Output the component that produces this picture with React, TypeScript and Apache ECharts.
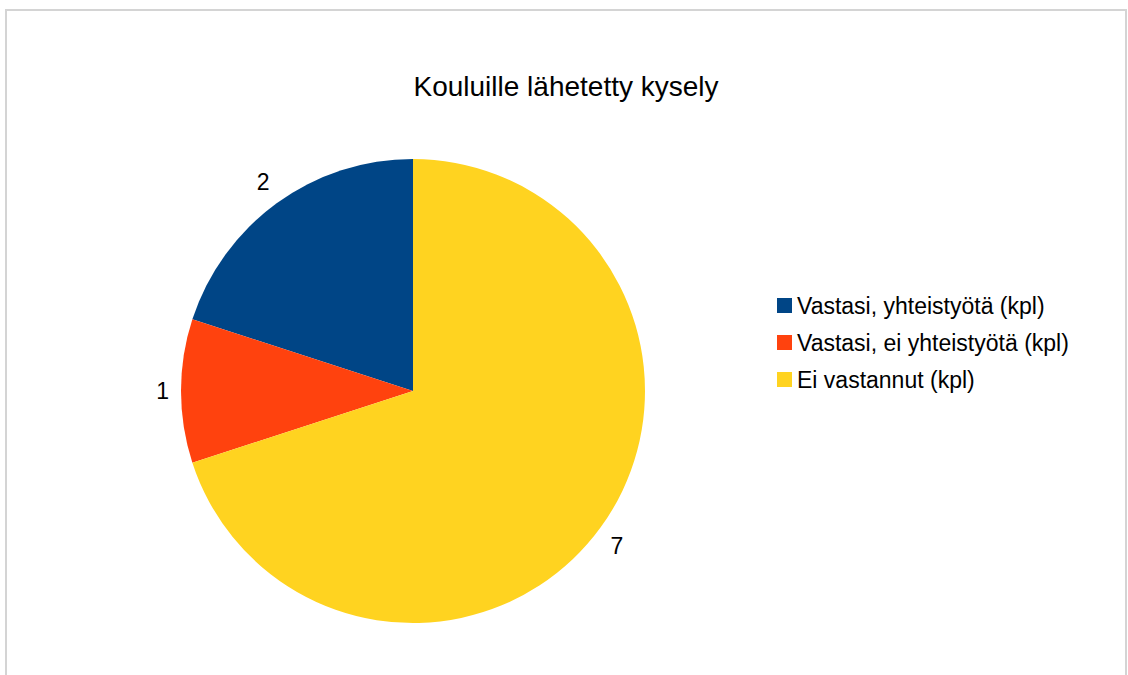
import React, { useEffect, useRef } from "react";
import * as echarts from "echarts";

const titleText = "Kouluille lähetetty kysely";
const categories = [
  "Vastasi, yhteistyötä (kpl)",
  "Vastasi, ei yhteistyötä (kpl)",
  "Ei vastannut (kpl)",
];
const values = [2, 1, 7];
const colors = ["#004586", "#ff420e", "#ffd320"];

const FONT = "'Liberation Sans', Arial, sans-serif";

export default function App() {
  const ref = useRef<HTMLDivElement>(null);
  useEffect(() => {
    if (!ref.current) return;
    const chart = echarts.init(ref.current, undefined, { renderer: "svg" });
    const total = values.reduce((a, b) => a + b, 0);
    // vertical side of each slice's mid angle (counter-clockwise from 12 o'clock)
    const sides: number[] = [];
    let cum = 0;
    values.forEach((v) => {
      const mid = ((90 + ((cum + v / 2) / total) * 360) * Math.PI) / 180;
      cum += v;
      const s = Math.sin(mid);
      sides.push(s > 0.3 ? 1 : s < -0.3 ? -1 : 0);
    });
    chart.setOption({
      animation: false,
      backgroundColor: "#ffffff",
      title: {
        text: titleText,
        left: 566,
        top: 72,
        padding: 0,
        textAlign: "center",
        textStyle: {
          fontFamily: FONT,
          fontSize: 28,
          fontWeight: "normal",
          color: "#000000",
        },
      },
      legend: {
        orient: "vertical",
        left: 777,
        top: 294,
        padding: 0,
        itemWidth: 15,
        itemHeight: 15,
        itemGap: 14,
        icon: "rect",
        data: categories,
        textStyle: {
          fontFamily: FONT,
          fontSize: 23,
          lineHeight: 22,
          color: "#000000",
        },
      },
      graphic: [
        {
          type: "rect",
          shape: { x: 6, y: 10, width: 1120, height: 700 },
          style: { fill: "none", stroke: "#d4d4d4", lineWidth: 2 },
          silent: true,
        },
      ],
      series: [
        {
          type: "pie",
          center: [413, 391],
          radius: 232,
          startAngle: 90,
          clockwise: false,
          avoidLabelOverlap: false,
          color: colors,
          label: {
            show: true,
            position: "outside",
            formatter: (p: any) => {
              const side = sides[p.dataIndex];
              const v = String(p.value);
              return side > 0 ? v + "\n " : side < 0 ? " \n" + v : v;
            },
            fontFamily: FONT,
            fontSize: 23,
            lineHeight: 24,
            color: "#000000",
            distanceToLabelLine: 0,
          },
          labelLine: { show: false, length: 12, length2: 0 },
          emphasis: { disabled: true },
          data: categories.map((name, i) => ({ name, value: values[i] })),
        },
      ],
    });
    return () => chart.dispose();
  }, []);
  return (
    <div
      ref={ref}
      style={{ position: "fixed", left: 0, top: 0, width: 1128, height: 675 }}
    />
  );
}
